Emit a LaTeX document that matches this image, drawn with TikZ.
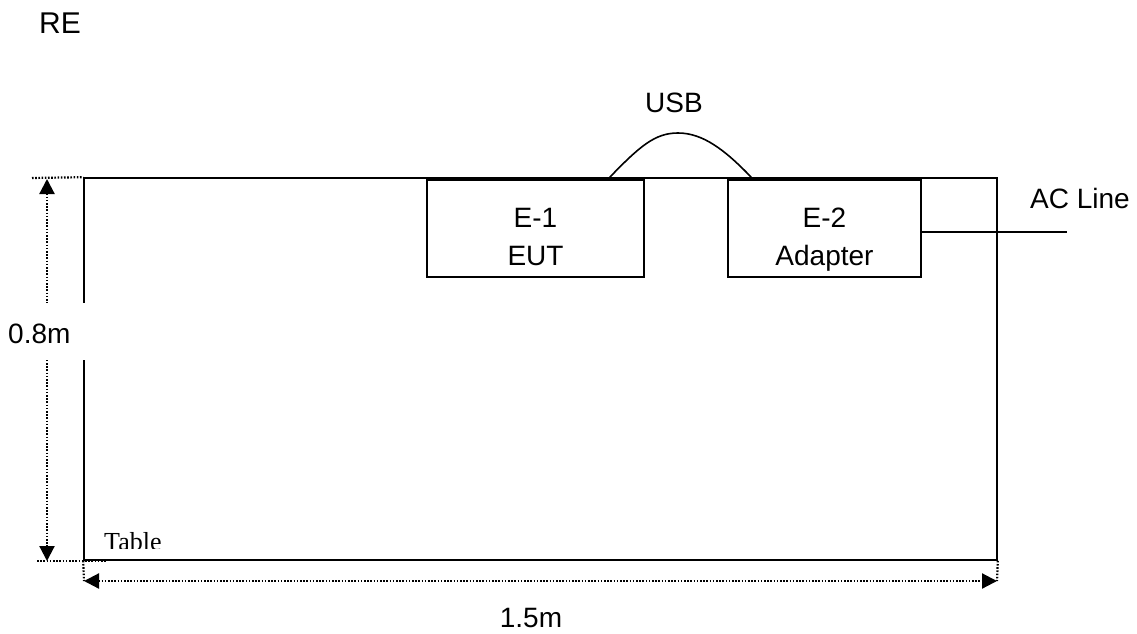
\documentclass[tikz,border=0pt]{standalone}
\usepackage{fontspec}
\setmainfont{Liberation Sans}
\newfontfamily\serifface{Liberation Serif}
\usetikzlibrary{arrows.meta,calc}
\tikzset{
  boxnode/.style={draw, line width=1.6pt, minimum width=#1, minimum height=97pt, inner sep=0pt},
  txt/.style={font=\fontsize{28}{38}\selectfont, inner sep=0pt},
  dotline/.style={line width=2.2pt, dash pattern=on 1.6pt off 1.6pt},
  dimarrow/.style={dotline, {Triangle[length=15pt,width=15pt]}-{Triangle[length=15pt,width=15pt]}},
  solidline/.style={line width=1.6pt}
}
\begin{document}
\begin{tikzpicture}[x=1pt,y=-1pt]
\useasboundingbox (0,0) rectangle (1137,634);
% table
\node[draw, line width=1.6pt, minimum width=913pt, minimum height=382pt, inner sep=0pt] (table) at (540.5,369) {};
% boxes
\node[boxnode=217pt] (e1) at (535.5,228.5) {};
\node[boxnode=193pt] (e2) at (824.5,228.5) {};
\node[txt, anchor=base] (e1a) at (535.5,227) {E-1};
\node[txt, anchor=base] (e1b) at (535.5,265) {EUT};
\node[txt, anchor=base] (e2a) at (824.5,227) {E-2};
\node[txt, anchor=base] (e2b) at (824.5,265) {Adapter};
% USB cable
\coordinate (u1) at ($(e1.north east)+(-35,-2)$);
\coordinate (u2) at ($(e2.north west)+(24,-2)$);
\coordinate (utop) at (678,133);
\draw[solidline] (u1) .. controls (640,146) and (655,133) .. (utop) .. controls (703,133) and (725,150) .. (u2);
\node[txt, anchor=base] (usb) at (674,112) {USB};
% AC line
\coordinate (acend) at (1067,232);
\draw[solidline] (e2.east |- acend) -- (acend);
\node[txt, anchor=base west] (ac) at (1030,208) {AC Line};
% RE
\node[font=\fontsize{30}{36}\selectfont, inner sep=0pt, anchor=base west] (re) at (39,34) {RE};
% vertical dimension
\coordinate (vt) at (32,178);
\coordinate (vb) at (37,561);
\coordinate (vbe) at (107,561);
\draw[dotline] (vt) -- (table.north west);
\draw[dotline] (vb) -- (vbe);
\draw[dimarrow] (47,179) -- (47,561);
% horizontal dimension
\coordinate (hl) at (84,581);
\coordinate (hr) at (997,581);
\draw[dotline] (table.south west) -- (hl);
\draw[dotline] (table.south east) -- (hr);
\draw[dimarrow] (hl) -- (hr);
\node[txt, anchor=base] (w) at (531,627) {1.5m};
% 0.8m label with white background gap
\fill[white] (0,303) rectangle (87,360);
\node[txt, anchor=base west] (h) at (8,343) {0.8m};
% Table label clipped
\begin{scope}
\clip (95,520) rectangle (200,548);
\node[font=\serifface\fontsize{26}{30}\selectfont, inner sep=0pt, anchor=base west] (tbl) at (104,550) {Table};
\end{scope}
\end{tikzpicture}
\end{document}
